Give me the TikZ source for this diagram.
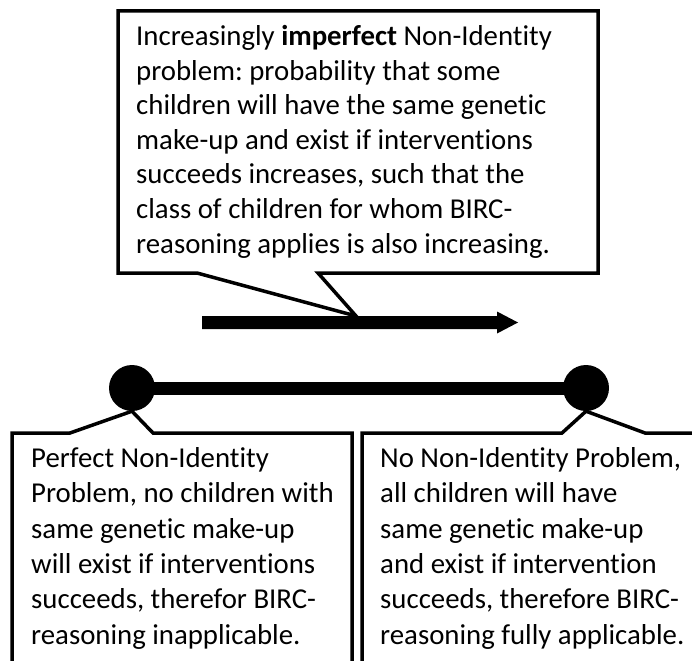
\documentclass[tikz,border=0pt]{standalone}
\usepackage{fontspec}
\setmainfont[Ligatures=NoCommon]{Carlito}
\frenchspacing
\begin{document}
\begin{tikzpicture}[x=1pt,y=-1pt,
  outline/.style={draw=black,line width=3.5pt,line join=miter,fill=white},
  txt/.style={anchor=north west,inner sep=0pt,align=left,font=\fontsize{28.8}{34.6}\selectfont},
  txtb/.style={anchor=north west,inner sep=0pt,align=left,font=\fontsize{28.8}{35.4}\selectfont}]
\useasboundingbox (0,0) rectangle (692,660);
\begin{scope}
\clip (0,0) rectangle (692,660);
% top callout
\coordinate (tip) at (356,316);
\draw[outline] (118,11) -- (598,11) -- (598,273) -- (318,273) -- (tip) -- (197,273) -- (118,273) -- cycle;
\node[txt] (toptext) at (136,25) {Increasingly \textbf{imperfect} Non-Identity\\problem: probability that some\\children will have the same genetic\\make-up and exist if interventions\\succeeds increases, such that the\\class of children for whom BIRC-\\reasoning applies is also increasing.};
% arrow
\fill[black] (202,316) -- (497,316) -- (497,311.5) -- (518,322.5) -- (497,333.5) -- (497,329) -- (202,329) -- cycle;
% bottom line and circles
\node[circle,fill=black,minimum size=46pt,inner sep=0pt] (lc) at (132,388) {};
\node[circle,fill=black,minimum size=46pt,inner sep=0pt] (rc) at (586,388) {};
\draw[line width=13pt] (lc.center) -- (rc.center);
% left box
\draw[outline] (12,700) -- (12,433) -- (70,433) -- (lc.south) -- (153,433) -- (352,433) -- (352,700);
\node[txtb] (lefttext) at (31,447) {Perfect Non-Identity\\Problem, no children with\\same genetic make-up\\will exist if interventions\\succeeds, therefor BIRC-\\reasoning inapplicable.};
% right box
\draw[outline] (362,700) -- (362,433) -- (562,433) -- (rc.south) -- (645,433) -- (720,433) -- (720,700);
\node[txtb] (righttext) at (380,447) {No Non-Identity Problem,\\all children will have\\same genetic make-up\\and exist if intervention\\succeeds, therefore BIRC-\\reasoning fully applicable.};
\end{scope}
\end{tikzpicture}
\end{document}
